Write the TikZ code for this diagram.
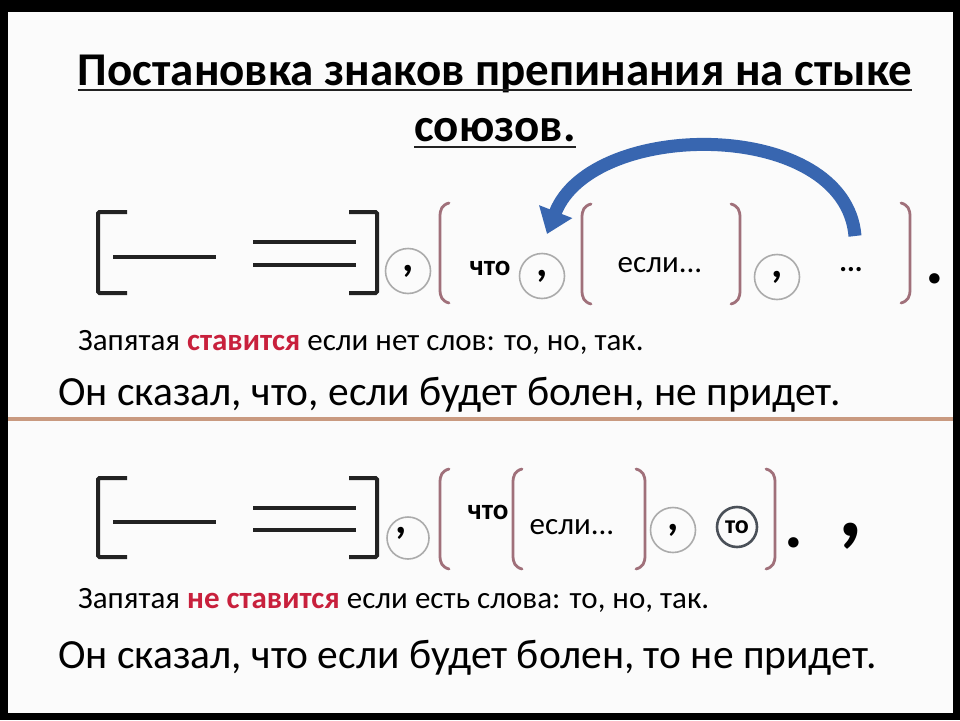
\documentclass[tikz,border=0pt]{standalone}
\usepackage{fontspec}
\setmainfont{Carlito}
\usetikzlibrary{arrows.meta,positioning,calc}
\definecolor{ink}{HTML}{222222}
\definecolor{parclr}{HTML}{A0707A}
\definecolor{ringgray}{HTML}{ABABAB}
\definecolor{ringdark}{HTML}{4A5058}
\definecolor{alert}{HTML}{C8203C}
\definecolor{rulebrown}{HTML}{C99A80}
\definecolor{arrowblue}{HTML}{3866B0}
\definecolor{paper}{HTML}{FBFBFB}
\tikzset{
  brk/.style={draw=ink, line width=4pt, rounded corners=1.5pt},
  pred/.style={draw=ink, line width=3.6pt},
  parline/.style={draw=parclr, line width=2.8pt, line cap=round},
  sepcirc/.style={circle, draw=ringgray, line width=1.6pt, minimum size=45pt, inner sep=0pt,
                  font=\fontsize{44}{44}\selectfont\bfseries},
  wordcirc/.style={circle, draw=ringdark, line width=2.6pt, minimum size=40pt, inner sep=0pt,
                   font=\fontsize{26}{26}\selectfont\bfseries},
  smallword/.style={inner sep=0pt, font=\fontsize{29}{30}\selectfont\bfseries},
  ifword/.style={inner sep=0pt, font=\fontsize{31}{32}\selectfont},
  endmark/.style={inner sep=0pt, anchor=base, font=\fontsize{70}{70}\selectfont\bfseries},
  ttl/.style={inner sep=0pt, font=\fontsize{47}{50}\selectfont\bfseries},
  note/.style={inner sep=0pt, font=\fontsize{31}{34}\selectfont},
  example/.style={inner sep=0pt, font=\fontsize{41.5}{44}\selectfont},
  uline/.style={draw=ink, line width=2.2pt},
  divider/.style={draw=rulebrown, line width=4pt},
  bigarrow/.style={draw=arrowblue, line width=13pt, -{Triangle[length=24pt,width=34pt]}},
  lpar/.pic={\draw[parline] (9,-50) .. controls (2,-48) and (0,-44) .. (0,-36) -- (0,36) .. controls (0,44) and (2,48) .. (9,50);},
  rpar/.pic={\draw[parline] (-9,-50) .. controls (-2,-48) and (0,-44) .. (0,-36) -- (0,36) .. controls (0,44) and (-2,48) .. (-9,50);}
}
\begin{document}
\begin{tikzpicture}[x=1pt, y=-1pt]
  % frame
  \fill[black] (0,0) rectangle (960,720);
  \fill[paper] (8,12) rectangle (953,713);
  \useasboundingbox (0,0) rectangle (960,720);

  % title
  \node[ttl, anchor=base] (t1) at (495,85) {Постановка знаков препинания на стыке};
  \node[ttl, anchor=base] (t2) at (495,141) {союзов.};
  \draw[uline] ([yshift=-5pt]t1.base west) -- ([yshift=-5pt]t1.base east);
  \draw[uline] ([yshift=-6pt]t2.base west) -- ([yshift=-6pt]t2.base east);

  % first scheme
  \draw[brk] (127,212) -- (98,212) -- (98,293) -- (127,293);
  \draw[brk] (349,212) -- (377,212) -- (377,293) -- (349,293);
  \draw[pred] (113,257) -- (216,257);
  \draw[pred] (253,242) -- (356,242);
  \draw[pred] (253,265) -- (356,265);
  \node[sepcirc] (c1) at (408,271) {,};
  \pic at (440,253) {lpar};
  \node[smallword] (w1) at (490,268) {что};
  \node[sepcirc] (c2) at (542,276) {,};
  \pic at (582,254) {lpar};
  \node[ifword] (w2) at (660,265) {если...};
  \pic at (740,254) {rpar};
  \node[sepcirc] (c3) at (777,277) {,};
  \node[smallword] (w3) at (851,270) {...};
  \pic at (910,253) {rpar};
  \node[endmark] (e1) at (935,283) {.};
  \coordinate (tail) at (855,236);
  \coordinate (head) at (547,234);
  \draw[bigarrow] (tail) .. controls (845,118) and (592,118) .. (head);

  \node[note, anchor=base west] (n1) at (78,350)
    {Запятая \textcolor{alert}{\textbf{ставится}} если нет слов: то, но, так.};
  \node[example, anchor=base west] (x1) at (58,405)
    {Он сказал, что, если будет болен, не придет.};

  \draw[divider] (8,419) -- (953,419);

  % second scheme
  \draw[brk] (127,478) -- (98,478) -- (98,557) -- (127,557);
  \draw[brk] (349,478) -- (377,478) -- (377,557) -- (349,557);
  \draw[pred] (113,522) -- (216,522);
  \draw[pred] (253,508) -- (356,508);
  \draw[pred] (253,530) -- (356,530);
  \node[sepcirc, minimum size=42pt] (d1) at (408,538) {};
  \node[sepcirc, draw=none] (k1) at (401,533) {,};
  \pic at (440,519) {lpar};
  \node[smallword] (v1) at (488,512) {что};
  \pic at (513,519) {lpar};
  \node[ifword] (v2) at (572,527) {если...};
  \pic at (645,519) {rpar};
  \node[sepcirc] (d2) at (673,530) {,};
  \node[wordcirc] (d3) at (737,527) {то};
  \pic at (775,519) {rpar};
  \node[endmark] (e2) at (794,547) {.};
  \node[endmark, font=\fontsize{95}{95}\selectfont\bfseries] (e3) at (851,536) {,};

  \node[note, anchor=base west] (n2) at (78,608)
    {Запятая \textcolor{alert}{\textbf{не ставится}} если есть слова: то, но, так.};
  \node[example, anchor=base west] (x2) at (58,668)
    {Он сказал, что если будет болен, то не придет.};
\end{tikzpicture}
\end{document}
